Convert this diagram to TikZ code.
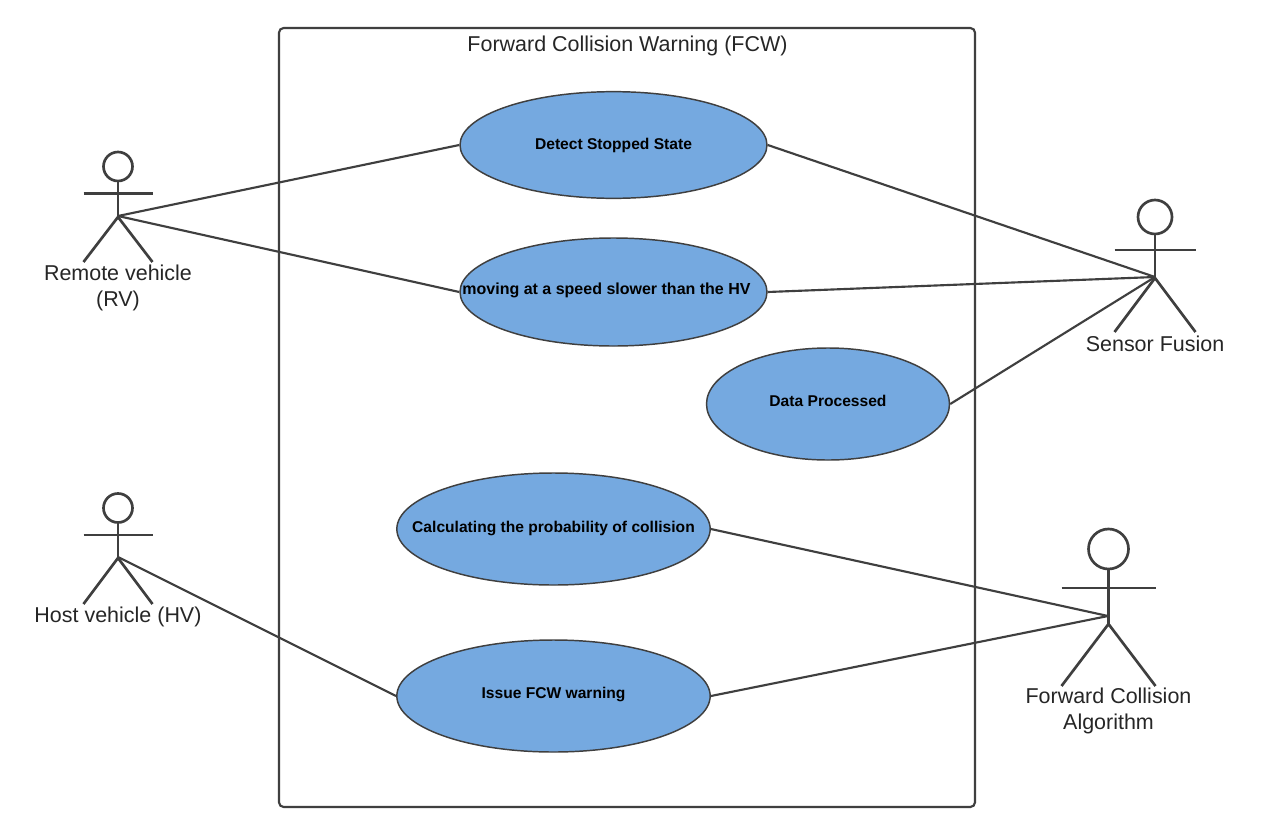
\documentclass[tikz,border=0pt]{standalone}
\usepackage{fontspec}
\setmainfont{Liberation Sans}
\usetikzlibrary{shapes.geometric}
\definecolor{ln}{HTML}{3F3F3F}
\definecolor{uc}{HTML}{75A9E0}
\tikzset{x=0.75pt,y=-0.75pt,
 lineS/.style={draw=ln,line width=1.6pt},
 actorline/.style={draw=ln,line width=2pt},
 usecase/.style={ellipse,draw=ln,line width=1.1pt,fill=uc,inner sep=0,text=black,font=\fontsize{11.7}{14}\selectfont\bfseries},
 lbl/.style={text=black!85,align=center,font=\fontsize{16.1}{19.5}\selectfont}}
% cx, head cy, r, arm y, half width, hip y, foot y
\newcommand{\actorfig}[7]{%
 \draw[actorline] (#1,#2) circle[radius=#3*0.75pt];
 \draw[actorline] (#1,#2+#3) -- (#1,#6);
 \draw[actorline] (#1-#5,#4) -- (#1+#5,#4);
 \draw[actorline] (#1-#5,#7) -- (#1,#6) -- (#1+#5,#7);}
\newcommand{\uctext}[2]{\raisebox{#1}{\makebox[0pt][c]{#2}}}
\begin{document}
\begin{tikzpicture}
\useasboundingbox (0,0) rectangle (1280,835);
\fill[white] (0,0) rectangle (1280,835);
\draw[ln,line width=1.6pt,rounded corners=3.5pt] (279,28) rectangle (975,807);
\node[lbl] (title) at (627.5,45.5) {Forward Collision Warning (FCW)};
% actors
\actorfig{118}{166.5}{14.5}{193.5}{34.5}{217}{262}
\actorfig{1155}{217}{17}{250}{40.5}{278}{332}
\actorfig{118}{508}{14.5}{535}{34.5}{558}{604}
\actorfig{1108.5}{549}{20}{588}{47}{624}{686}
\coordinate (rvj) at (118,216);
\coordinate (sfj) at (1155,277);
\coordinate (hvj) at (118,557);
\coordinate (fcj) at (1108,616);
% use cases
\node[usecase,minimum width=230.25pt,minimum height=80pt] (a) at (613.5,145) {\uctext{0.8pt}{Detect Stopped State}};
\node[usecase,minimum width=230.25pt,minimum height=81pt] (b) at (613.5,292) {\uctext{5.5pt}{\hspace{-10.5pt}\fontsize{12}{14}\selectfont moving at a speed slower than the HV}};
\node[usecase,minimum width=182.25pt,minimum height=84pt] (c) at (828,404) {\uctext{4.5pt}{Data Processed}};
\node[usecase,minimum width=235pt,minimum height=84pt] (d) at (553.5,529) {\uctext{3.5pt}{Calculating the probability of collision}};
\node[usecase,minimum width=235pt,minimum height=84pt] (e) at (553.5,696) {\uctext{4.5pt}{Issue FCW warning}};
% connectors
\draw[lineS] (rvj) -- (a.west);
\draw[lineS] (rvj) -- (b.west);
\draw[lineS] (a.east) -- (sfj);
\draw[lineS] (b.east) -- (sfj);
\draw[lineS] (c.east) -- (sfj);
\draw[lineS] (d.east) -- (fcj);
\draw[lineS] (e.east) -- (fcj);
\draw[lineS] (hvj) -- (e.west);
% labels
\node[lbl] (l1) at (118,287.5) {Remote vehicle\\(RV)};
\node[lbl] (l2) at (118,617) {Host vehicle (HV)};
\node[lbl] (l3) at (1155,344) {Sensor Fusion};
\node[lbl] (l4) at (1108.5,711) {Forward Collision\\Algorithm};
\end{tikzpicture}
\end{document}
